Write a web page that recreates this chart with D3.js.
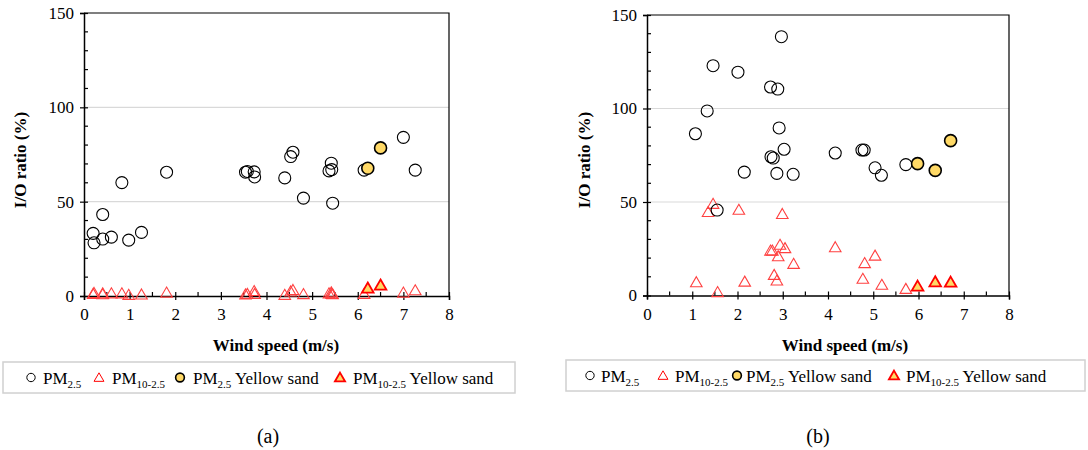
<!DOCTYPE html>
<html>
<head>
<meta charset="utf-8">
<script src="https://cdn.jsdelivr.net/npm/d3@7"></script>
<style>
  body { margin: 0; background: #fff; }
  svg text { font-family: "Liberation Serif", "Times New Roman", serif; fill: #000; }
</style>
</head>
<body>
<svg id="chart" width="1088" height="450"></svg>
<script>
// ---- data: [wind speed (m/s), I/O ratio (%)] ----
var aPM25 = [[0.20,33.2],[0.22,28.2],[0.41,43.2],[0.41,30.2],[0.60,31.2],[0.83,60.1],[0.98,29.6],
  [1.26,33.7],[1.81,65.6],[3.54,65.6],[3.58,66.0],[3.73,65.8],[3.74,63.1],[4.40,62.6],[4.53,73.9],
  [4.58,76.2],[4.81,51.9],[5.37,66.3],[5.42,70.4],[5.43,67.0],[5.45,49.2],[6.14,66.7],[7.00,84.1],[7.26,66.7]]
var aPM10 = [[0.20,0.5],[0.22,1.0],[0.41,0.3],[0.41,0.8],[0.60,0.8],[0.83,0.8],[0.98,0.0],
  [1.26,0.2],[1.81,1.2],[3.54,0.2],[3.58,0.5],[3.73,2.0],[3.74,0.5],[4.40,0.0],[4.53,1.8],
  [4.58,2.6],[4.81,0.4],[5.37,0.8],[5.42,1.3],[5.43,0.5],[5.45,0.3],[6.14,0.5],[7.00,1.2],[7.26,2.4]]
var aPM25Sand = [[6.22,67.7],[6.50,78.5]]
var aPM10Sand = [[6.22,3.6],[6.50,5.2]]

var bPM25 = [[1.07,86.5],[1.33,98.7],[1.46,122.9],[1.55,45.7],[2.01,119.4],[2.15,66.0],[2.73,111.5],
  [2.89,110.4],[2.97,138.4],[2.92,89.6],[3.03,78.2],[2.74,74.2],[2.79,73.5],[2.87,65.3],[3.23,64.8],
  [4.16,76.2],[4.75,77.8],[4.80,77.8],[5.04,68.3],[5.18,64.3],[5.72,70.0]]
var bPM10 = [[1.09,6.5],[1.35,44.0],[1.46,48.4],[1.56,1.2],[2.03,45.2],[2.16,6.8],[2.73,23.4],
  [2.77,23.4],[2.94,26.5],[3.05,24.7],[2.90,20.4],[2.81,10.4],[2.87,7.4],[2.99,43.0],[3.24,16.3],
  [4.16,25.2],[4.77,8.3],[4.81,16.7],[5.04,20.7],[5.19,5.1],[5.72,2.9]]
var bPM25Sand = [[5.98,70.5],[6.37,66.9],[6.71,82.8]]
var bPM10Sand = [[5.98,4.4],[6.37,6.7],[6.71,6.5]]

var xTicks = [0, 1, 2, 3, 4, 5, 6, 7, 8]
var yTicks = [0, 50, 100, 150]
var yGrid = [50, 100]
var xTitle = 'Wind speed (m/s)'
var yTitle = 'I/O ratio (%)'

var SAND = '#ffd966'
var RED = '#ff0000'

var svg = d3.select('#chart')
svg.append('rect').attr('width', 1088).attr('height', 450).attr('fill', '#fff')

var circleSym = d3.symbol(d3.symbolCircle, 113)
var triSym = d3.symbol(d3.symbolTriangle, 58)

function drawPanel(p) {
  var x = d3.scaleLinear().domain([0, 8]).range([p.left, p.right])
  var y = d3.scaleLinear().domain([0, 150]).range([p.bottom, p.top])
  var g = svg.append('g')

  g.selectAll('.grid').data(yGrid).enter().append('line')
    .attr('x1', p.left).attr('x2', p.right)
    .attr('y1', d => y(d)).attr('y2', d => y(d))
    .attr('stroke', '#d9d9d9').attr('stroke-width', 1.2)

  // frame: top and right
  g.append('path')
    .attr('d', 'M' + p.left + ',' + y(150) + 'H' + p.right + 'V' + p.bottom)
    .attr('fill', 'none').attr('stroke', '#000').attr('stroke-width', 1.2)

  // x axis: integer ticks cross the line, half ticks inside
  var xAxis = d3.axisBottom(x).tickValues(xTicks).tickSize(4).tickPadding(8)
  var gx = g.append('g').attr('transform', 'translate(0,' + p.bottom + ')').call(xAxis)
  gx.select('.domain').attr('stroke-width', 1.5)
  gx.selectAll('.tick line').attr('y1', -4).attr('stroke-width', 1.2)
  gx.selectAll('.tick text').attr('font-size', 17).attr('font-family', 'Liberation Serif')
  gx.selectAll('.minor').data(d3.range(0.5, 8, 1)).enter().append('line')
    .attr('x1', d => x(d)).attr('x2', d => x(d)).attr('y1', 0).attr('y2', -4)
    .attr('stroke', '#000').attr('stroke-width', 1.2)

  // y axis: 50-step ticks cross the line, 10-step ticks inside
  var yAxis = d3.axisLeft(y).tickValues(yTicks).tickSize(4).tickPadding(6)
  var gy = g.append('g').attr('transform', 'translate(' + p.left + ',0)').call(yAxis)
  gy.select('.domain').attr('stroke-width', 1.5)
  gy.selectAll('.tick line').attr('x1', 4).attr('stroke-width', 1.2)
  gy.selectAll('.tick text').attr('font-size', 17).attr('font-family', 'Liberation Serif')
  gy.selectAll('.minor').data(d3.range(10, 150, 10).filter(v => v % 50)).enter().append('line')
    .attr('x1', 0).attr('x2', 4).attr('y1', d => y(d)).attr('y2', d => y(d))
    .attr('stroke', '#000').attr('stroke-width', 1.2)
  g.selectAll('.tick text').attr('fill', '#000')
  g.selectAll('.domain, .tick line').attr('stroke', '#000')

  g.append('text').attr('x', p.xTitleX).attr('y', 351).attr('text-anchor', 'middle')
    .attr('font-size', 17).attr('font-weight', 'bold').text(xTitle)
  g.append('text').attr('transform', 'translate(' + p.yTitleX + ',160) rotate(-90)')
    .attr('text-anchor', 'middle').attr('dy', '0.35em')
    .attr('font-size', 17).attr('font-weight', 'bold').text(yTitle)

  function marks(data, sym, fill, stroke, sw) {
    g.append('g').selectAll('path').data(data).enter().append('path')
      .attr('d', sym)
      .attr('transform', d => 'translate(' + x(d[0]) + ',' + y(d[1]) + ')')
      .attr('fill', fill).attr('stroke', stroke).attr('stroke-width', sw)
  }
  marks(p.pm10, triSym, 'none', '#ff4040', 1.1)
  marks(p.pm25, circleSym, 'none', '#000', 1.1)
  marks(p.pm25Sand, circleSym, SAND, '#000', 1.6)
  marks(p.pm10Sand, triSym, SAND, RED, 1.8)

  // legend
  var lg = g.append('g')
  lg.append('rect').attr('x', p.legX).attr('y', p.legY).attr('width', p.legW).attr('height', 31)
    .attr('fill', '#fff').attr('stroke', '#d0d0d0').attr('stroke-width', 1.5)
  var cy = p.legY + 15.5
  var items = [
    {sym: d3.symbol(d3.symbolCircle, 55), fill: 'none', stroke: '#000', sw: 1, sub: '2.5', tail: ''},
    {sym: d3.symbol(d3.symbolTriangle, 42), fill: 'none', stroke: RED, sw: 1, sub: '10-2.5', tail: ''},
    {sym: d3.symbol(d3.symbolCircle, 60), fill: SAND, stroke: '#000', sw: 1.6, sub: '2.5', tail: ' Yellow sand'},
    {sym: d3.symbol(d3.symbolTriangle, 45), fill: SAND, stroke: RED, sw: 1.8, sub: '10-2.5', tail: ' Yellow sand'}
  ]
  items.forEach(function(it, i) {
    lg.append('path').attr('d', it.sym)
      .attr('transform', 'translate(' + p.legMarks[i] + ',' + (cy + (i % 2 ? 1 : 0)) + ')')
      .attr('fill', it.fill).attr('stroke', it.stroke).attr('stroke-width', it.sw)
    var t = lg.append('text').attr('x', p.legTexts[i]).attr('y', cy + 6).attr('font-size', 17)
    t.append('tspan').text('PM')
    t.append('tspan').attr('font-size', 11).attr('dy', 4).text(it.sub)
    if (it.tail) t.append('tspan').attr('dy', -4).text(it.tail)
  })

  g.append('text').attr('x', p.capX).attr('y', 443).attr('text-anchor', 'middle')
    .attr('font-size', 20).text(p.caption)
}

drawPanel({left: 84, right: 449, top: 13, bottom: 296,
  xTitleX: 276, yTitleX: 20,
  pm25: aPM25, pm10: aPM10, pm25Sand: aPM25Sand, pm10Sand: aPM10Sand,
  legX: 3, legY: 362, legW: 512, legMarks: [31, 99, 180, 340], legTexts: [43, 112, 193, 353],
  capX: 268, caption: '(a)'})

drawPanel({left: 647, right: 1009, top: 15, bottom: 295.5,
  xTitleX: 845, yTitleX: 584,
  pm25: bPM25, pm10: bPM10, pm25Sand: bPM25Sand, pm10Sand: bPM10Sand,
  legX: 566, legY: 360, legW: 519, legMarks: [590, 663, 737, 894], legTexts: [601, 675, 746, 906],
  capX: 818, caption: '(b)'})
</script>
</body>
</html>
